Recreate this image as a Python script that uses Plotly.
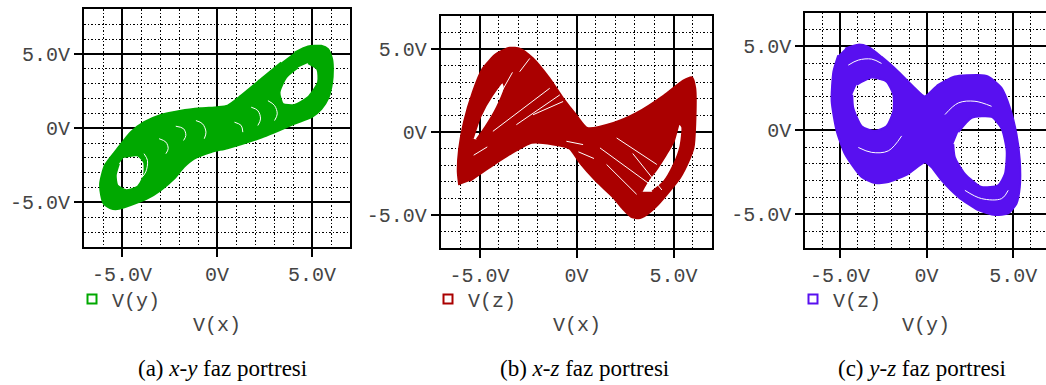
import plotly.graph_objects as go

# ---------------- data (volts) ----------------
# (a) x-y phase portrait: outer outline of the green band and its two holes
A_OUTER_X = [4.08, 4.79, 5.49, 5.85, 6.06, 6.1, 6.05, 5.85, 5.5, 5.0, 4.1, 2.3, 0.55, -0.3,
             -1.2, -1.73, -2.25, -2.96, -3.66, -4.54, -5.25, -5.6, -5.95, -6.1, -6.15, -5.9,
             -5.25, -4.54, -3.84, -2.96, -1.9, -0.85, 0.04, 0.56, 1.27, 2.32, 3.38]
A_OUTER_Y = [5.09, 5.49, 5.54, 5.31, 4.64, 3.9, 3.0, 2.0, 1.3, 0.75, 0.3, -0.65, -1.35, -1.6,
             -2.05, -2.6, -3.4, -4.17, -4.73, -5.18, -5.45, -5.4, -5.1, -4.5, -3.7, -2.5,
             -1.4, -0.27, 0.4, 0.89, 1.18, 1.34, 1.41, 1.52, 2.19, 3.3, 4.42]
A_HOLE1_X = [-4.89, -4.19, -3.84, -3.84, -4.19, -4.81, -5.25, -5.33, -5.16]
A_HOLE1_Y = [-1.94, -1.83, -2.28, -3.17, -3.95, -4.17, -3.84, -3.17, -2.39]
A_HOLE2_X = [4.79, 5.28, 5.32, 4.79, 4.08, 3.47, 3.29, 3.64, 4.26]
A_HOLE2_Y = [4.38, 3.97, 3.08, 2.08, 1.56, 1.63, 2.41, 3.42, 4.08]
A_STREAKS = [
    ([-3.05, -2.69, -2.57, -2.69], [-0.71, -0.94, -1.38, -1.72]),
    ([-2.17, -1.76, -1.64, -1.76], [0.13, -0.04, -0.49, -0.83]),
    ([-1.11, -0.76, -0.58, -0.67], [0.51, 0.29, -0.27, -0.71]),
    ([1.8, 2.15, 2.29, 2.15], [1.41, 1.18, 0.62, 0.18]),
    ([0.92, 1.27, 1.36], [0.4, 0.18, -0.27]),
    ([2.68, 3.03, 3.17, 3.03], [1.85, 1.52, 0.96, 0.51]),
    ([-3.84, -3.66, -3.75, -4.01], [-1.72, -2.17, -2.95, -3.39]),
]

# (b) x-z phase portrait
B_OUTER_X = [-6.05, -6.12, -6.05, -5.8, -5.35, -4.85, -4.15, -3.45, -2.9, -2.25, -1.4, -0.7,
             0.0, 0.55, 1.9, 3.1, 4.5, 5.5, 5.95, 6.12, 6.12, 6.03, 5.78, 5.34, 4.66, 4.1,
             3.6, 3.2, 2.8, 2.4, 1.9, 1.0, 0.2, -0.35, -1.2, -2.3, -3.45, -4.5, -5.5]
B_OUTER_Y = [-3.2, -2.4, -1.0, 0.6, 2.4, 3.8, 4.7, 5.08, 5.02, 4.45, 3.25, 2.05,
             1.0, 0.25, 0.55, 1.15, 2.2, 3.1, 3.3, 2.65, 0.45, -0.96, -1.76, -2.76, -3.76, -4.5,
             -5.0, -5.2, -5.1, -4.65, -3.95, -2.95, -1.9, -1.0, -0.75, -0.65, -1.35, -2.15, -2.95]
B_HOLE1_X = [-5.35, -4.95, -4.35, -3.8, -3.7, -4.1, -4.7, -5.15]
B_HOLE1_Y = [-0.4, 0.95, 2.2, 3.0, 2.7, 1.5, 0.3, -0.45]
B_HOLE2_X = [3.35, 3.7, 4.1, 4.6, 5.0, 5.3, 5.45, 5.35, 5.0, 4.5, 3.9]
B_HOLE2_Y = [-3.6, -2.9, -2.3, -1.4, -0.6, 0.5, 0.3, -0.9, -2.0, -3.0, -3.6]
B_STREAKS = [
    ([-4.31, -1.38], [0.04, 2.64]),
    ([-3.1, -0.86], [0.44, 2.24]),
    ([-2.93, -2.41], [3.64, 4.44]),
    ([-2.24, -0.69], [1.04, 1.84]),
    ([-4.6, -3.3], [0.9, 3.6]),
    ([-5.3, -4.6], [-1.4, -0.9]),
    ([1.21, 3.79], [-0.96, -3.16]),
    ([2.07, 4.14], [-0.36, -1.96]),
    ([1.55, 3.1], [-1.96, -3.76]),
    ([2.9, 4.4], [-1.3, -3.5]),
    ([-0.52, 0.34], [-0.56, -0.76]),
    ([0.1, 0.9], [-1.2, -1.6]),
]

# (c) y-z phase portrait
C_OUTER_X = [-4.71, -3.94, -3.37, -2.6, -1.63, -0.67, -0.1, 0.67, 1.63, 2.98, 3.56, 4.33,
             4.81, 5.19, 5.38, 5.38, 5.19, 4.71, 3.94, 2.98, 1.83, 0.87, 0.29, -0.1, -1.06,
             -2.21, -2.98, -3.75, -4.71, -5.19, -5.48, -5.38, -5.1]
C_OUTER_Y = [4.86, 5.1, 4.96, 4.37, 3.49, 2.51, 2.02, 2.71, 3.2, 3.29, 3.2, 2.51,
             1.33, -0.24, -1.8, -3.37, -4.35, -4.94, -5.04, -4.75, -3.96, -2.98, -2.2, -1.9, -2.59,
             -3.08, -3.14, -2.78, -1.41, -0.04, 1.73, 3.49, 4.47]
C_HOLE1_X = [-4.04, -3.17, -2.31, -1.92, -1.92, -2.31, -2.98, -3.75, -4.23, -4.29]
C_HOLE1_Y = [2.71, 3.14, 2.9, 2.12, 1.14, 0.25, -0.04, 0.25, 1.33, 2.12]
C_HOLE2_X = [1.83, 2.6, 3.75, 4.33, 4.62, 4.52, 4.13, 3.17, 2.21, 1.63, 1.54]
C_HOLE2_Y = [-0.1, 0.75, 0.8, 0.1, -1.22, -2.59, -3.27, -3.37, -2.59, -1.61, -0.82]
C_STREAKS = [
    ([-4.52, -3.94, -3.17, -2.6], [3.88, 4.18, 4.24, 3.98]),
    ([-3.94, -3.17, -2.21, -1.44], [-1.02, -1.31, -1.22, -0.33]),
    ([1.06, 1.83, 2.79, 3.75], [0.94, 1.63, 1.73, 1.43]),
    ([2.21, 3.17, 4.33, 4.71], [-3.57, -4.06, -4.06, -3.57]),
]

TICK_VALS = [-5, 0, 5]
TICK_TEXT = ["-5.0V", "0V", "5.0V"]
LEGEND_NAMES = ["V(y)", "V(z)", "V(z)"]
X_TITLES = ["V(x)", "V(x)", "V(y)"]
CAPTIONS = ["(a) <i>x-y</i> faz portresi", "(b) <i>x-z</i> faz portresi",
            "(c) <i>y-z</i> faz portresi"]
COLORS = ["#00a800", "#aa0000", "#5810f0"]

# ---------------- layout geometry (pixels in a 1046x385 page) ----------------
W, H = 1046, 385
PANELS = [
    dict(x0=84, x1=350, y0=9.3, y1=247, xr=[-7, 7], yr=[-8, 8], leg=72, tx=217, cap=222),
    dict(x0=440.7, x1=712.3, y0=16, y1=248, xr=[-7, 7], yr=[-7, 7], leg=428, tx=576.7, cap=584),
    dict(x0=805.3, x1=1046, y0=12.7, y1=248, xr=[-7, 6.89], yr=[-7, 7], leg=793, tx=926.3, cap=921.7),
]

MONO = "Courier New, Liberation Mono, monospace"
SERIF = "Times New Roman, Liberation Serif, serif"


def signed_area(xs, ys):
    s = 0.0
    n = len(xs)
    for i in range(n):
        j = (i + 1) % n
        s += xs[i] * ys[j] - xs[j] * ys[i]
    return s / 2


def region(outer_x, outer_y, holes):
    xs, ys = list(outer_x), list(outer_y)
    a0 = signed_area(outer_x, outer_y)
    for hx, hy in holes:
        hx, hy = list(hx), list(hy)
        if signed_area(hx, hy) * a0 > 0:
            hx, hy = hx[::-1], hy[::-1]
        xs += [None] + hx
        ys += [None] + hy
    return xs, ys


DATA = [
    (A_OUTER_X, A_OUTER_Y, [(A_HOLE1_X, A_HOLE1_Y), (A_HOLE2_X, A_HOLE2_Y)], A_STREAKS),
    (B_OUTER_X, B_OUTER_Y, [(B_HOLE1_X, B_HOLE1_Y), (B_HOLE2_X, B_HOLE2_Y)], B_STREAKS),
    (C_OUTER_X, C_OUTER_Y, [(C_HOLE1_X, C_HOLE1_Y), (C_HOLE2_X, C_HOLE2_Y)], C_STREAKS),
]

fig = go.Figure()
layout = dict(width=W, height=H, margin=dict(l=0, r=0, t=0, b=0),
              paper_bgcolor="white", plot_bgcolor="white", annotations=[])

for i, (p, (ox, oy, holes, streaks), col) in enumerate(zip(PANELS, DATA, COLORS)):
    k = "" if i == 0 else str(i + 1)
    xa, ya = "x" + k, "y" + k
    rx, ry = region(ox, oy, holes)
    fig.add_trace(go.Scatter(x=rx, y=ry, mode="lines", fill="toself", fillcolor=col,
                             line=dict(color=col, width=2, shape="spline", smoothing=0.6),
                             xaxis=xa, yaxis=ya, showlegend=False, hoverinfo="skip"))
    for sx, sy in streaks:
        fig.add_trace(go.Scatter(x=sx, y=sy, mode="lines", line=dict(color="white", width=1),
                                 line_shape="spline", xaxis=xa, yaxis=ya,
                                 showlegend=False, hoverinfo="skip"))
    leg = "legend" + k
    fig.add_trace(go.Scatter(x=[None], y=[None], mode="markers", name=LEGEND_NAMES[i],
                             marker=dict(symbol="square-open", size=9, color=col,
                                         line=dict(color=col, width=2)),
                             xaxis=xa, yaxis=ya, legend=leg, showlegend=True))

    common = dict(showline=True, linecolor="black", linewidth=2, mirror=True,
                  showgrid=True, gridcolor="black", gridwidth=1.6, zeroline=False,
                  tickmode="array", tickvals=TICK_VALS, ticktext=TICK_TEXT,
                  ticks="outside", ticklen=8, tickwidth=1.5, tickcolor="black",
                  tickfont=dict(family=MONO, size=20, color="#444"),
                  minor=dict(tickmode="linear", tick0=0, dtick=1, showgrid=True,
                             gridcolor="black", gridwidth=1.2, griddash="1.5px,2px", ticks=""),
                  fixedrange=True)
    layout["xaxis" + k] = dict(common, domain=[p["x0"] / W, p["x1"] / W], range=p["xr"],
                               anchor=ya)
    ymirror = True if i < 2 else False
    layout["yaxis" + k] = dict(common, domain=[1 - p["y1"] / H, 1 - p["y0"] / H],
                               range=p["yr"], anchor=xa, mirror=ymirror)
    layout[leg] = dict(x=p["leg"] / W, y=1 - 299 / H, xanchor="left", yanchor="middle",
                       bgcolor="rgba(0,0,0,0)", borderwidth=0,
                       font=dict(family=MONO, size=20, color="#444"), itemwidth=30)
    layout["annotations"].append(dict(text=X_TITLES[i], x=p["tx"] / W, y=1 - 325 / H,
                                      xref="paper", yref="paper", showarrow=False,
                                      xanchor="center", yanchor="middle",
                                      font=dict(family=MONO, size=20, color="#444")))
    layout["annotations"].append(dict(text=CAPTIONS[i], x=p["cap"] / W, y=1 - 368 / H,
                                      xref="paper", yref="paper", showarrow=False,
                                      xanchor="center", yanchor="middle",
                                      font=dict(family=SERIF, size=23, color="black")))

fig.update_layout(**layout)
fig.write_html("out.html")
